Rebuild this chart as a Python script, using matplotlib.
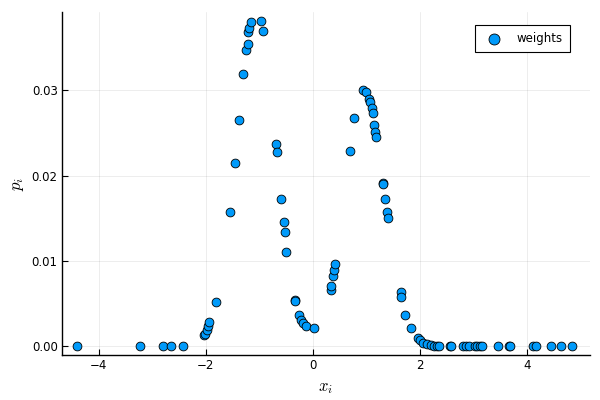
import matplotlib
matplotlib.use("Agg")
import matplotlib.pyplot as plt
from matplotlib.ticker import FormatStrFormatter

plt.rcParams["mathtext.fontset"] = "cm"

# sample positions x_i and their weights p_i
x = [-4.41, -3.23, -2.79, -2.65, -2.43,
     -2.04, -2.02, -1.98, -1.96, -1.93, -1.81,
     -1.55, -1.46, -1.38, -1.31, -1.25, -1.21, -1.20, -1.19, -1.16,
     -0.97, -0.93, -0.69, -0.67, -0.60, -0.54, -0.52, -0.49,
     -0.34, -0.34, -0.26, -0.21, -0.19, -0.13, 0.02,
     0.34, 0.35, 0.38, 0.40, 0.42,
     0.69, 0.78, 0.94, 1.00, 1.05, 1.07, 1.10, 1.12, 1.15, 1.17, 1.19,
     1.31, 1.31, 1.35, 1.38, 1.40,
     1.66, 1.66, 1.73, 1.83,
     1.97, 2.01, 2.07, 2.14, 2.21, 2.27, 2.33, 2.37,
     2.56, 2.59, 2.81, 2.87, 2.92, 3.03, 3.08, 3.12, 3.17,
     3.46, 3.67, 3.69, 4.12, 4.17, 4.46, 4.65, 4.85]
p = [0.0, 0.0, 0.0, 0.0, 0.0,
     0.00129, 0.0014, 0.0019, 0.0023, 0.0028, 0.0052,
     0.0157, 0.0215, 0.0265, 0.0319, 0.0347, 0.0354, 0.0369, 0.0373, 0.0380,
     0.0381, 0.0370, 0.0237, 0.0228, 0.0172, 0.0145, 0.0134, 0.0110,
     0.0054, 0.0053, 0.0036, 0.0030, 0.0027, 0.0023, 0.0021,
     0.0066, 0.0070, 0.0082, 0.0089, 0.0096,
     0.0229, 0.0268, 0.0300, 0.0298, 0.0290, 0.0286, 0.0279, 0.0273, 0.0259, 0.0251, 0.0245,
     0.0191, 0.0190, 0.0173, 0.0157, 0.0150,
     0.0064, 0.0058, 0.0036, 0.0021,
     0.0009, 0.0007, 0.0004, 0.0002, 0.0001, 0.00006, 0.00003, 0.0,
     0.0, 0.0, 0.0, 0.0, 0.0, 0.0, 0.0, 0.0, 0.0,
     0.0, 0.0, 0.0, 0.0, 0.0, 0.0, 0.0, 0.0]

xticks = [-4, -2, 0, 2, 4]
yticks = [0.0, 0.01, 0.02, 0.03]

fig = plt.figure(figsize=(6, 4), dpi=100)
ax = fig.add_axes([0.103, 0.1125, 0.88, 0.8575])

ax.scatter(x, p, s=40, c="#009AFA", edgecolors="black", linewidths=0.6,
           label="weights", zorder=3)

ax.set_xlim(-4.69, 5.18)
ax.set_ylim(-0.00105, 0.0392)
ax.set_xticks(xticks)
ax.set_yticks(yticks)
ax.yaxis.set_major_formatter(FormatStrFormatter("%.2f"))

# light grid, only left/bottom frame, inward ticks
ax.grid(True, color="black", alpha=0.1, linewidth=0.5)
ax.set_axisbelow(True)
for s in ["top", "right"]:
    ax.spines[s].set_visible(False)
for s in ["left", "bottom"]:
    ax.spines[s].set_linewidth(1.0)
ax.tick_params(direction="in", length=4, width=0.8, labelsize=8.5, pad=3)

ax.set_xlabel("$x_i$", fontsize=12)
ax.set_ylabel("$p_i$", fontsize=12)

leg = ax.legend(loc="upper right", fontsize=8.5, fancybox=False,
                edgecolor="black", framealpha=1, borderpad=0.6,
                markerscale=1.25, handletextpad=0.9, borderaxespad=0,
                bbox_to_anchor=(0.962, 0.962))
leg.get_frame().set_linewidth(0.8)

fig.savefig("out.png", dpi=100)
